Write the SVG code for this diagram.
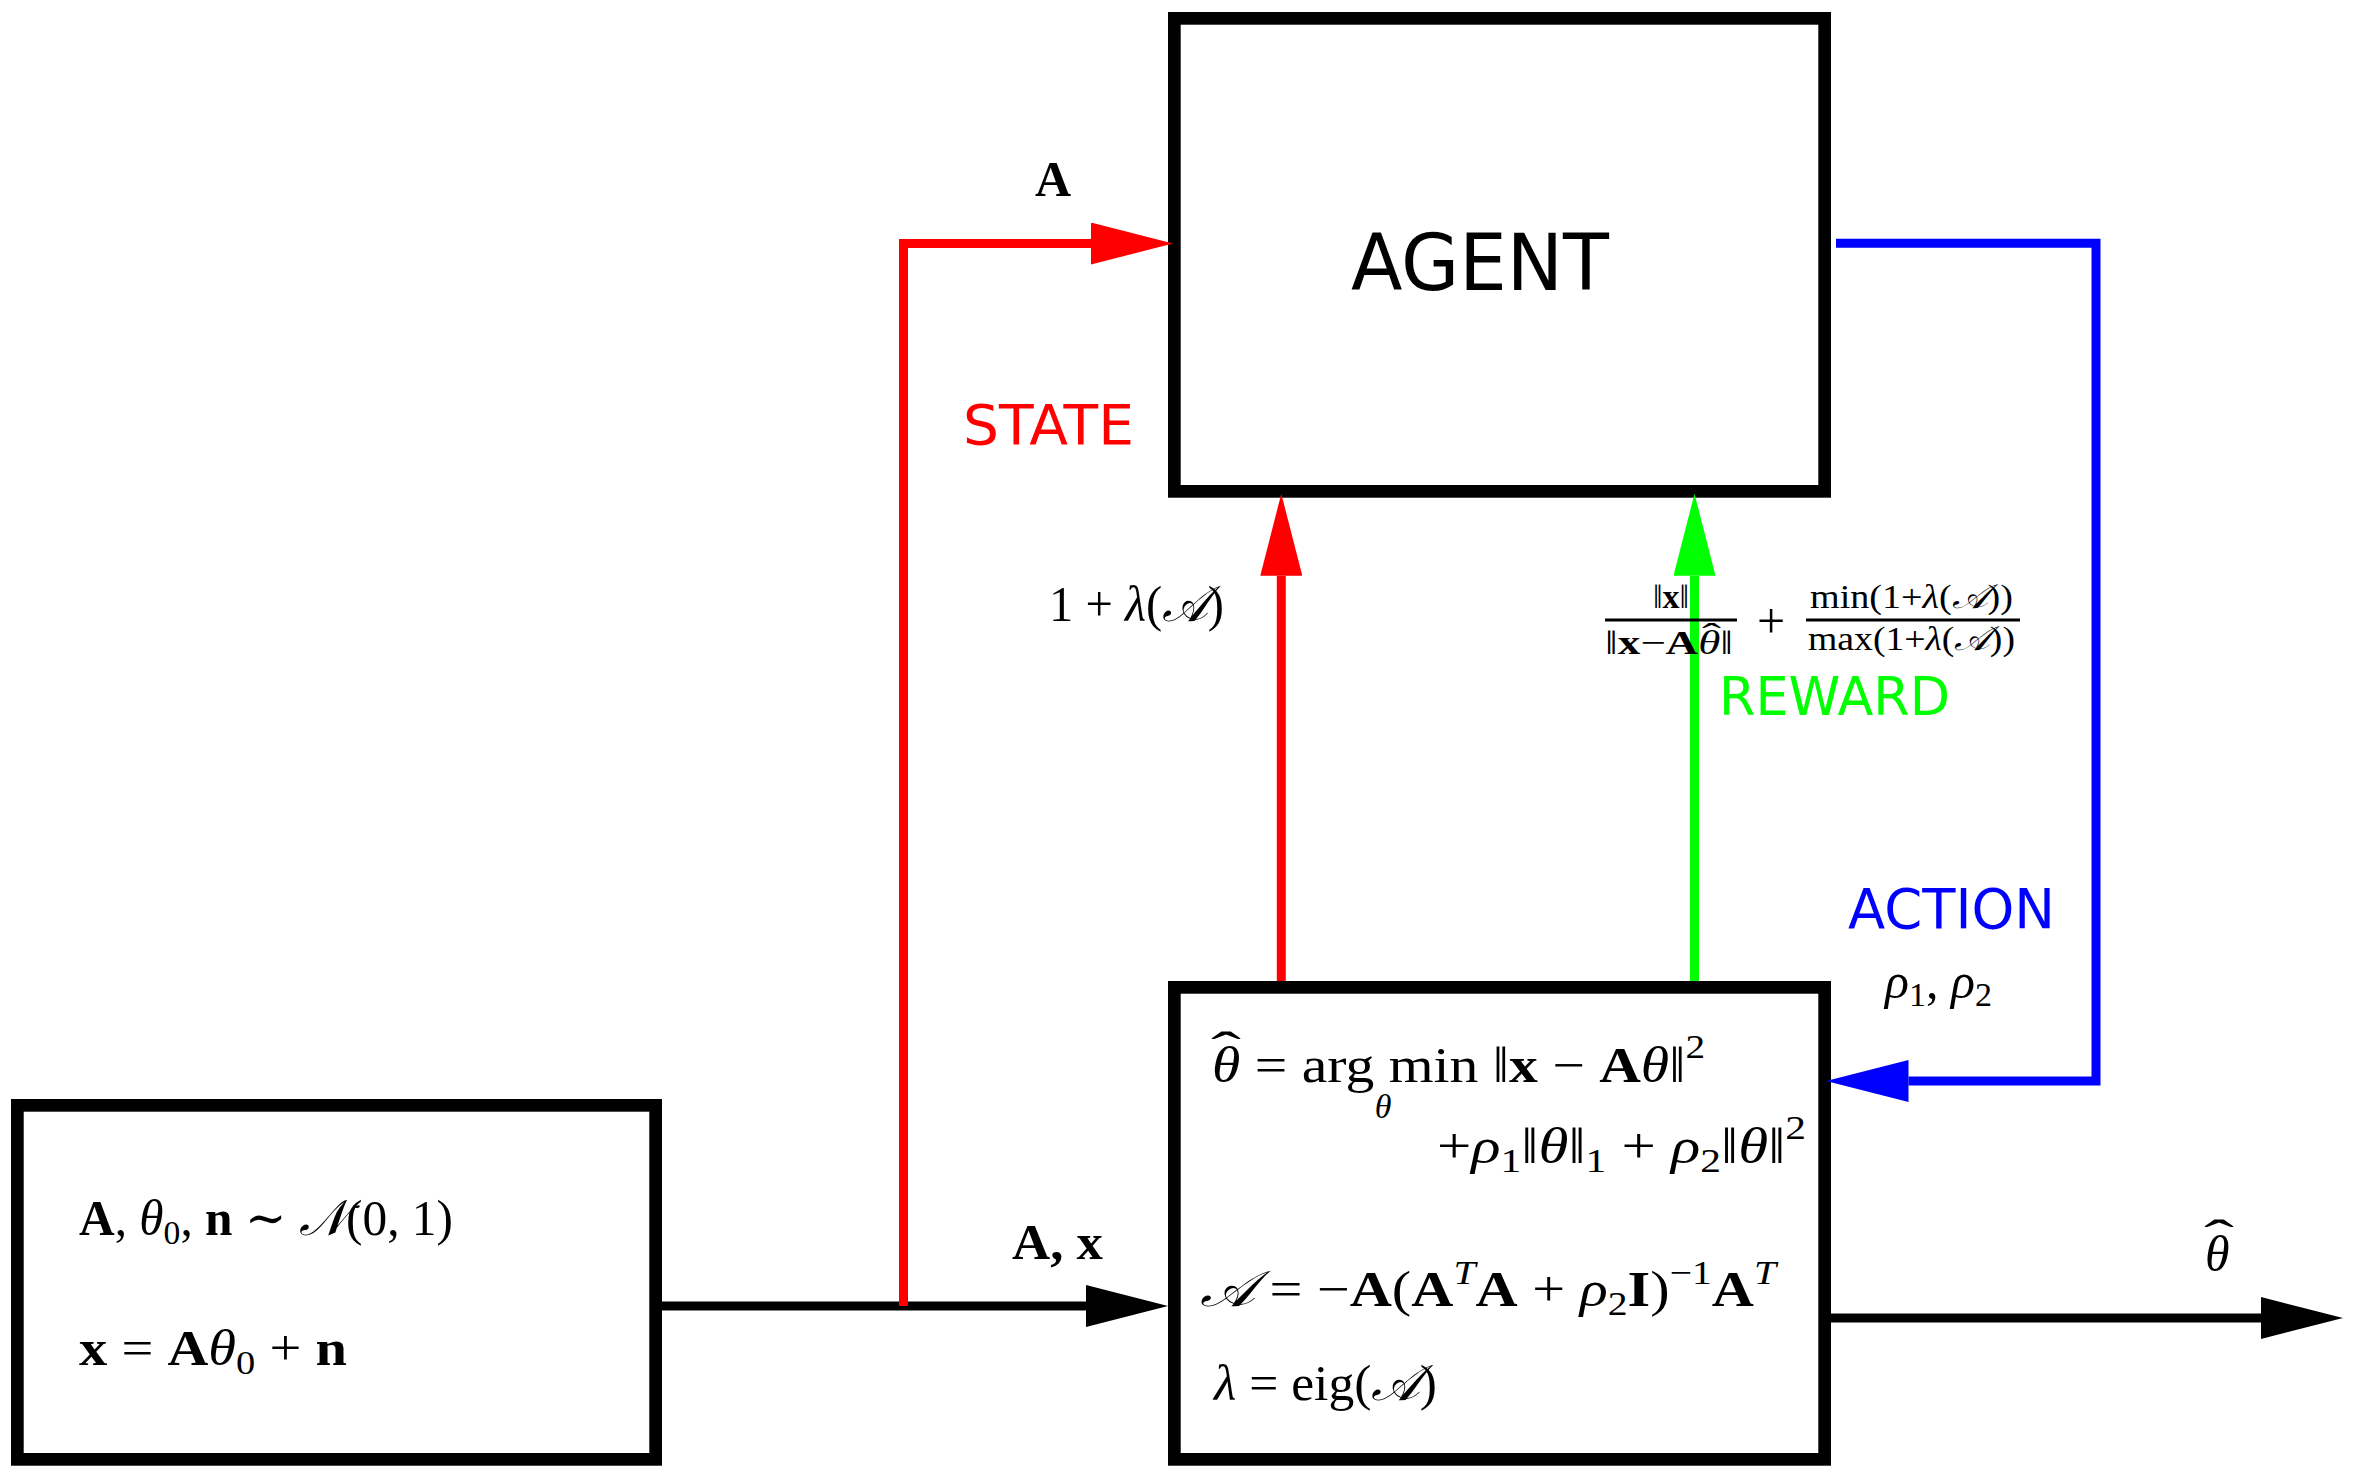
<svg xmlns="http://www.w3.org/2000/svg" width="2358" height="1475" viewBox="0 0 2358 1475">
<style>
.box{fill:#fff;stroke:#000;stroke-width:12.7}
.m{font-family:"Liberation Serif","DejaVu Serif",serif;fill:#000;font-size:50px}
.f{font-size:34px}
.s{font-family:"DejaVu Sans","Liberation Sans",sans-serif}
.i{font-style:italic}
.b{font-weight:bold}
.ln{fill:none;stroke-width:9;stroke-linecap:butt;stroke-linejoin:miter}
</style>
<defs>
<marker id="ak" markerUnits="userSpaceOnUse" markerWidth="82" markerHeight="42" viewBox="0 0 82 42" refX="0" refY="21" orient="auto"><path d="M0,0 L82,21 L0,42 Z" fill="#000"/></marker>
<marker id="ar" markerUnits="userSpaceOnUse" markerWidth="82" markerHeight="42" viewBox="0 0 82 42" refX="0" refY="21" orient="auto"><path d="M0,0 L82,21 L0,42 Z" fill="#f00"/></marker>
<marker id="ag" markerUnits="userSpaceOnUse" markerWidth="82" markerHeight="42" viewBox="0 0 82 42" refX="0" refY="21" orient="auto"><path d="M0,0 L82,21 L0,42 Z" fill="#0f0"/></marker>
<marker id="ab" markerUnits="userSpaceOnUse" markerWidth="82" markerHeight="42" viewBox="0 0 82 42" refX="0" refY="21" orient="auto"><path d="M0,0 L82,21 L0,42 Z" fill="#00f"/></marker>
</defs>
<rect width="2358" height="1475" fill="#fff"/>

<g id="agent">
<rect class="box" x="1174.35" y="18.35" width="650.3" height="473"/>
<text class="s" x="1351" y="290" font-size="78" textLength="258" lengthAdjust="spacingAndGlyphs">AGENT</text>
</g>

<g id="environment">
<rect class="box" x="1174.35" y="987.35" width="650.3" height="472"/>
<text class="m" x="1212" y="1082" textLength="493" lengthAdjust="spacingAndGlyphs"><tspan class="i">θ</tspan> = arg min ‖<tspan class="b">x</tspan> − <tspan class="b">A</tspan><tspan class="i">θ</tspan>‖<tspan class="f" dy="-24">2</tspan></text>
<text class="m" x="1211" y="1067" textLength="30" lengthAdjust="spacingAndGlyphs">ˆ</text>
<text class="m f i" x="1383" y="1118" text-anchor="middle">θ</text>
<text class="m" x="1437" y="1163" textLength="369" lengthAdjust="spacingAndGlyphs">+<tspan class="i">ρ</tspan><tspan class="f" dy="9">1</tspan><tspan dy="-9">‖</tspan><tspan class="i">θ</tspan>‖<tspan class="f" dy="9">1</tspan><tspan dy="-9"> + </tspan><tspan class="i">ρ</tspan><tspan class="f" dy="9">2</tspan><tspan dy="-9">‖</tspan><tspan class="i">θ</tspan>‖<tspan class="f" dy="-24">2</tspan></text>
<text class="m" x="1200" y="1306" textLength="576" lengthAdjust="spacingAndGlyphs"><tspan class="i">𝒜</tspan> = −<tspan class="b">A</tspan>(<tspan class="b">A</tspan><tspan class="i f" dy="-22">T</tspan><tspan class="b" dy="22">A</tspan> + <tspan class="i">ρ</tspan><tspan class="f" dy="9">2</tspan><tspan class="b" dy="-9">I</tspan>)<tspan class="f" dy="-22">−1</tspan><tspan class="b" dy="22">A</tspan><tspan class="i f" dy="-22">T</tspan></text>
<text class="m" x="1214" y="1400" textLength="223" lengthAdjust="spacingAndGlyphs"><tspan class="i">λ</tspan> = eig(<tspan class="i">𝒜</tspan>)</text>
</g>

<g id="data">
<rect class="box" x="17.35" y="1105.35" width="638.3" height="354"/>
<text class="m" x="79" y="1235" textLength="374" lengthAdjust="spacingAndGlyphs"><tspan class="b">A</tspan>, <tspan class="i">θ</tspan><tspan class="f" dy="9">0</tspan><tspan dy="-9">, </tspan><tspan class="b">n</tspan> ∼ <tspan class="i">𝒩</tspan>(0, 1)</text>
<text class="m" x="79" y="1365" textLength="268" lengthAdjust="spacingAndGlyphs"><tspan class="b">x</tspan> = <tspan class="b">A</tspan><tspan class="i">θ</tspan><tspan class="f" dy="9">0</tspan><tspan dy="-9"> + </tspan><tspan class="b">n</tspan></text>
</g>

<g id="connectors">
<path class="ln" stroke="#000" d="M662,1306 H1086" marker-end="url(#ak)"/>
<path class="ln" stroke="#f00" d="M903.5,1306 V243.5 H1091" marker-end="url(#ar)"/>
<path class="ln" stroke="#f00" d="M1281.3,981 V575.7" marker-end="url(#ar)"/>
<path class="ln" stroke="#0f0" d="M1694.5,981 V575.7" marker-end="url(#ag)"/>
<path class="ln" stroke="#00f" d="M1836,243.3 H2096 V1081 H1908.5" marker-end="url(#ab)"/>
<path class="ln" stroke="#000" d="M1831,1318 H2261" marker-end="url(#ak)"/>
</g>

<g id="labels">
<text class="m b" x="1035" y="196">A</text>
<text class="s" x="963" y="444" font-size="56" fill="#f00" textLength="171" lengthAdjust="spacingAndGlyphs">STATE</text>
<text class="m" x="1049" y="621" textLength="175" lengthAdjust="spacingAndGlyphs">1 + <tspan class="i">λ</tspan>(<tspan class="i">𝒜</tspan>)</text>
<text class="m f" x="1671" y="608" text-anchor="middle">‖<tspan class="b">x</tspan>‖</text>
<line x1="1605" y1="620" x2="1737" y2="620" stroke="#000" stroke-width="3"/>
<text class="m f" x="1605" y="654" textLength="128" lengthAdjust="spacingAndGlyphs">‖<tspan class="b">x</tspan>−<tspan class="b">A</tspan><tspan class="i">θ</tspan>‖</text>
<text class="m f" x="1702" y="647" textLength="19" lengthAdjust="spacingAndGlyphs">ˆ</text>
<text class="m" x="1771" y="638" text-anchor="middle">+</text>
<text class="m f" x="1810" y="608" textLength="203" lengthAdjust="spacingAndGlyphs">min(1+<tspan class="i">λ</tspan>(<tspan class="i">𝒜</tspan>))</text>
<line x1="1806" y1="620" x2="2020" y2="620" stroke="#000" stroke-width="3"/>
<text class="m f" x="1808" y="650" textLength="207" lengthAdjust="spacingAndGlyphs">max(1+<tspan class="i">λ</tspan>(<tspan class="i">𝒜</tspan>))</text>
<text class="s" x="1719" y="715" font-size="54" fill="#0f0" textLength="231" lengthAdjust="spacingAndGlyphs">REWARD</text>
<text class="s" x="1848" y="928" font-size="55" fill="#00f" textLength="207" lengthAdjust="spacingAndGlyphs">ACTION</text>
<text class="m" x="1885" y="998" font-size="44" textLength="107" lengthAdjust="spacingAndGlyphs"><tspan class="i">ρ</tspan><tspan class="f" dy="8">1</tspan><tspan dy="-8">, </tspan><tspan class="i">ρ</tspan><tspan class="f" dy="8">2</tspan></text>
<text class="m b" x="1012" y="1259" textLength="91" lengthAdjust="spacingAndGlyphs">A, x</text>
<text class="m i" x="2205" y="1271">θ</text>
<text class="m" x="2204" y="1255" textLength="30" lengthAdjust="spacingAndGlyphs">ˆ</text>
</g>
</svg>
